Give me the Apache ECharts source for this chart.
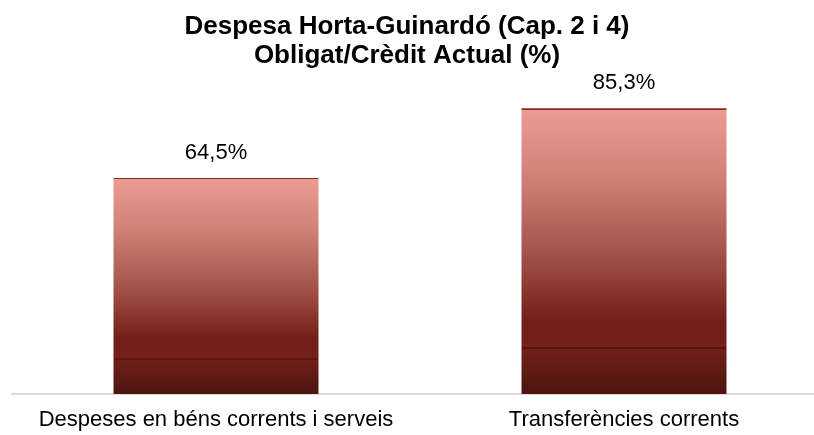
<!DOCTYPE html>
<html>
<head>
<meta charset="utf-8">
<script src="https://cdn.jsdelivr.net/npm/echarts@6/dist/echarts.min.js"></script>
<style>
  html, body { margin: 0; padding: 0; background: #ffffff; }
  #chart { width: 814px; height: 435px; }
</style>
</head>
<body>
<div id="chart"></div>
<script>
// Chapter 2 and 4 spending ratio, Horta-Guinardó district
const titleLines = ['Despesa Horta-Guinardó (Cap. 2 i 4)', 'Obligat/Crèdit Actual (%)'];
const categories = ['Despeses en béns corrents i serveis', 'Transferències corrents'];
const ratioValues = [64.5, 85.3];

const chart = echarts.init(document.getElementById('chart'), null, { renderer: 'canvas' });

// Vertical salmon-to-maroon fill with a thin dark seam near the base
const barFill = new echarts.graphic.LinearGradient(0, 0, 0, 1, [
  { offset: 0, color: '#8a2a22' },
  { offset: 0.006, color: '#8a2a22' },
  { offset: 0.007, color: '#ea9c92' },
  { offset: 0.25, color: '#d07f75' },
  { offset: 0.5, color: '#a5544b' },
  { offset: 0.74, color: '#74201a' },
  { offset: 0.835, color: '#741f19' },
  { offset: 0.836, color: '#511812' },
  { offset: 0.843, color: '#511812' },
  { offset: 0.844, color: '#721f19' },
  { offset: 1, color: '#4d1410' }
]);

chart.setOption({
  animation: false,
  title: {
    text: titleLines.join('\n'),
    left: 'center',
    top: 7,
    textStyle: {
      fontFamily: 'Liberation Sans, Arial, sans-serif',
      fontSize: 26,
      fontWeight: 'bold',
      color: '#000000',
      lineHeight: 29
    }
  },
  grid: {
    left: 12, right: -14, top: 59, bottom: 41,
    containLabel: false,
    outerBoundsMode: 'none'
  },
  xAxis: {
    type: 'category',
    data: categories,
    axisLine: { show: true, lineStyle: { color: '#d9d9d9', width: 2 } },
    axisTick: { show: false },
    axisLabel: {
      fontFamily: 'Liberation Sans, Arial, sans-serif',
      fontSize: 22,
      color: '#000000',
      margin: 15,
      interval: 0
    }
  },
  yAxis: {
    type: 'value',
    min: 0,
    max: 100,
    show: false,
    splitLine: { show: false }
  },
  series: [{
    type: 'bar',
    data: ratioValues,
    barWidth: 205,
    itemStyle: { color: barFill },
    label: {
      show: true,
      position: 'top',
      distance: 14,
      fontFamily: 'Liberation Sans, Arial, sans-serif',
      fontSize: 22,
      color: '#000000',
      formatter: p => p.value.toFixed(1).replace('.', ',') + '%'
    }
  }]
});
</script>
</body>
</html>
